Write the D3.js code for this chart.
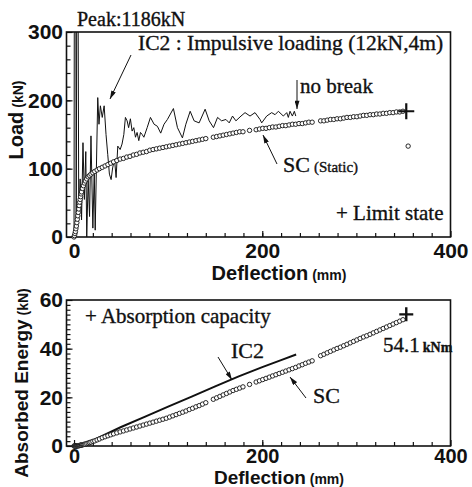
<!DOCTYPE html>
<html>
<head>
<meta charset="utf-8">
<script src="https://cdn.jsdelivr.net/npm/d3@7"></script>
<style>
  body { margin: 0; background: #fff; }
  svg { display: block; }
  .serif { font-family: "Liberation Serif", "Times New Roman", serif; fill: #111; stroke: #111; stroke-width: 0.35px; }
  .sans { font-family: "Liberation Sans", Arial, sans-serif; fill: #111; font-weight: bold; }
</style>
</head>
<body>
<svg id="chart" width="472" height="487"></svg>
<script>
// ---- Static test SC: deflection (mm), load (kN), absorbed energy (kNm) ----
const deflection = [
  0, 0.5, 1, 1.5, 2, 2.5, 3, 3.5, 4, 4.5, 5, 5.5, 6, 6.5, 7, 7.5, 8, 9, 10, 11, 12, 13.5, 15, 16.5, 18, 20, 22, 24.5, 27, 30,
  33, 36, 39, 42, 45.5, 49, 52.5, 56, 59.5, 63, 66.5, 70, 73.5, 77, 80.5, 84, 87.5, 91, 94.5, 98,
  101.5, 105, 108.5, 112, 115.5, 119, 122.5, 126, 129.5, 133, 136.5, 140, 148, 151.5, 155, 158.5, 162, 165.5, 169, 172.5,
  176, 179.5, 186.5, 193.5, 197, 200.5, 204, 207.5, 211, 214.5, 218, 221.5, 225, 228.5, 232, 235.5, 239, 242.5, 246, 249.5,
  253, 262, 265.5, 269, 272.5, 276, 279.5, 283, 286.5, 290, 293.5, 297, 300.5, 304, 307.5, 311, 314.5, 318, 321.5, 325,
  328.5, 332, 335.5, 339, 342.5, 346, 349.5
];
const scLoad = [
  0, 2, 5, 8, 12, 16, 21, 26, 31, 36, 41, 46, 51, 55, 59, 63, 66, 71, 75, 79, 82, 85, 88, 90, 92, 94, 96, 98, 100, 102,
  104, 106, 108, 110, 112, 114, 115, 117, 118, 120, 121, 123, 124, 125, 127, 128, 129, 130, 131, 132,
  133, 134, 135, 136, 137, 138, 139, 140, 141, 142, 143, 144, 146, 147, 148, 149, 150, 151, 152, 153,
  154, 154, 156, 157, 158, 159, 159, 160, 161, 161, 162, 163, 163, 164, 165, 165, 166, 166, 167, 168,
  168, 170, 170, 171, 172, 172, 173, 173, 174, 175, 175, 176, 176, 177, 178, 178, 179, 179, 180, 180,
  181, 181, 182, 182, 183, 183, 184
];
const scEnergy = [
  0, 0, 0, 0, 0, 0.05, 0.05, 0.1, 0.1, 0.1, 0.15, 0.2, 0.2, 0.25, 0.3, 0.35, 0.4, 0.5, 0.6, 0.7, 0.8, 1.0, 1.2, 1.4, 1.6, 1.9, 2.1, 2.5, 2.9, 3.4,
  3.8, 4.2, 4.6, 5.0, 5.4, 5.8, 6.2, 6.6, 7.0, 7.4, 7.8, 8.2, 8.6, 9.0, 9.4, 9.8, 10.2, 10.6, 11.0, 11.4,
  11.9, 12.4, 12.9, 13.4, 13.9, 14.4, 15.0, 15.5, 16.1, 16.6, 17.2, 17.8, 19.2, 19.8, 20.4, 21.0, 21.6, 22.2, 22.8, 23.3,
  23.8, 24.3, 25.3, 26.3, 26.8, 27.3, 27.8, 28.3, 28.8, 29.3, 29.8, 30.3, 30.8, 31.3, 31.8, 32.3, 32.9, 33.4, 34.0, 34.5,
  35.0, 37.1, 37.7, 38.3, 38.9, 39.5, 40.1, 40.6, 41.2, 41.8, 42.4, 43.0, 43.6, 44.2, 44.8, 45.3, 45.9, 46.5, 47.1, 47.7,
  48.3, 48.9, 49.5, 50.1, 50.7, 51.3, 51.9
];
// stray reading after the limit state
const scOutlierDeflection = [355];
const scOutlierLoad = [133];

// ---- Impulsive loading IC2 (12 kN, 4 m) ----
const ic2Deflection = [
  0, 1, 2.3, 3.6, 5, 6.5, 8, 9.5, 11, 12.5, 13.5, 15, 16.5, 18, 20, 21.5, 22.5, 25.2, 26.5, 28,
  30, 32, 34, 35.8, 37.6, 39.4, 41, 43, 44.7, 46.5, 49, 51, 52.9, 54.6, 56.4, 58, 59.9, 61.7, 63.5, 65.3,
  67, 68.8, 70.6, 72.4, 74.2, 77.7, 81.2, 85.1, 88.6, 92.1, 95.6, 99.2, 105.6, 109.9, 115.2, 118.8, 123.4, 127.6, 132.9, 139.3,
  143.6, 148.2, 152.5, 156.8, 161.4, 164.9, 168.4, 172, 177.4, 181.7, 187, 192.3, 197.6, 199.4, 204.7, 210, 213.6, 217.1, 222.4, 226,
  227.7, 229.5, 232, 234.1, 235.6
];
const ic2Load = [
  0, 1186, 10, 700, 30, 85, 25, 138, 55, 125, 0, 85, 30, 148, 13, 95, 10, 204, 165, 192,
  175, 192, 150, 121, 92, 84, 101, 114, 87, 133, 128, 136, 150, 175, 170, 160, 173, 155, 160, 146,
  153, 141, 153, 150, 146, 160, 175, 165, 162, 152, 165, 172, 188, 160, 145, 165, 184, 170, 167, 187,
  170, 160, 175, 170, 172, 167, 177, 170, 177, 182, 177, 182, 172, 167, 177, 182, 179, 184, 177, 182,
  175, 184, 177, 184, 177
];
const ic2EnergyDeflection = [0, 10, 20, 30, 50, 75, 100, 125, 150, 175, 200, 220, 236];
const ic2Energy = [0, 0.8, 2.3, 4.2, 7.8, 12, 16.2, 20.3, 24.5, 28.6, 32.4, 35.3, 37.6];

// limit state (load panel) and absorption capacity (energy panel)
const limitState = [353, 184];
const absorptionCapacity = [353, 54.1];

// ---- axis ticks ----
const xTicks = [0, 200, 400];
const loadTicks = [0, 100, 200, 300];
const energyTicks = [0, 20, 40, 60];

// ---- layout ----
const svg = d3.select("#chart");
const left = 66.5, right = 450.5;
const x = d3.scaleLinear().domain([-8, 400]).range([left, right]);
const yLoad = d3.scaleLinear().domain([0, 300]).range([237, 32]);
const yEnergy = d3.scaleLinear().domain([0, 60]).range([446, 300]);

const defs = svg.append("defs");
defs.append("marker")
  .attr("id", "arrow").attr("viewBox", "0 0 10 6")
  .attr("refX", 10).attr("refY", 3)
  .attr("markerWidth", 9).attr("markerHeight", 5)
  .attr("markerUnits", "userSpaceOnUse")
  .attr("orient", "auto")
  .append("path").attr("d", "M0,0 L10,3 L0,6 Z").attr("fill", "#111");
defs.append("clipPath").attr("id", "clipLoad")
  .append("rect").attr("x", left).attr("y", yLoad(300)).attr("width", right - left).attr("height", yLoad(0) - yLoad(300));
defs.append("clipPath").attr("id", "clipEnergy")
  .append("rect").attr("x", left).attr("y", yEnergy(60)).attr("width", right - left).attr("height", yEnergy(0) - yEnergy(60));

function frame(y, yMajor, yMinorStep, yTitle, yTitleSize, yTitleY, yTitleX, xLabelPad, xLabelSize, xTitleY, xTitleSize) {
  const [y0, y1] = y.range();
  const g = svg.append("g");
  // minor x ticks
  g.append("g").attr("transform", `translate(0,${y0})`)
    .call(d3.axisBottom(x).tickValues(d3.range(20, 400, 20)).tickSize(-4).tickFormat(""))
    .call(a => a.select(".domain").remove());
  // major x ticks with labels
  g.append("g").attr("transform", `translate(0,${y0})`)
    .call(d3.axisBottom(x).tickValues(xTicks).tickSize(-6).tickPadding(xLabelPad))
    .call(a => a.select(".domain").remove())
    .call(a => a.selectAll("text").attr("class", "sans").attr("font-size", xLabelSize).attr("fill", "#111"));
  // minor y ticks
  const yd = y.domain();
  g.append("g").attr("transform", `translate(${left},0)`)
    .call(d3.axisLeft(y).tickValues(d3.range(yd[0] + yMinorStep, yd[1], yMinorStep)).tickSize(-4).tickFormat(""))
    .call(a => a.select(".domain").remove());
  // major y ticks with labels
  g.append("g").attr("transform", `translate(${left},0)`)
    .call(d3.axisLeft(y).tickValues(yMajor).tickSize(-6).tickPadding(3.5))
    .call(a => a.select(".domain").remove())
    .call(a => a.selectAll("text").attr("class", "sans").attr("font-size", 21).attr("fill", "#111"));
  g.selectAll(".tick line").attr("stroke", "#111").attr("stroke-width", 1.2);
  // plot frame
  g.append("rect").attr("x", left).attr("y", y1).attr("width", right - left).attr("height", y0 - y1)
    .attr("fill", "none").attr("stroke", "#111").attr("stroke-width", 1.6);
  // axis titles
  const xt = g.append("text").attr("class", "sans").attr("x", 279).attr("y", xTitleY).attr("text-anchor", "middle");
  xt.append("tspan").attr("font-size", xTitleSize).text("Deflection");
  xt.append("tspan").attr("font-size", 14).text(" (mm)");
  const yt = g.append("text").attr("class", "sans").attr("text-anchor", "middle")
    .attr("transform", `translate(${yTitleX},${yTitleY}) rotate(-90)`);
  yt.append("tspan").attr("font-size", yTitleSize).text(yTitle);
  yt.append("tspan").attr("font-size", 14).text(" (kN)");
}

function plus(cx, cy, half, w) {
  svg.append("path")
    .attr("d", `M${cx - half},${cy}H${cx + half}M${cx},${cy - half}V${cy + half}`)
    .attr("stroke", "#111").attr("stroke-width", w).attr("fill", "none");
}

function arrow(x1, y1, x2, y2) {
  svg.append("line").attr("x1", x1).attr("y1", y1).attr("x2", x2).attr("y2", y2)
    .attr("stroke", "#111").attr("stroke-width", 1).attr("marker-end", "url(#arrow)");
}

// ================= Load panel =================
frame(yLoad, loadTicks, 20, "Load", 20, 120, 23, 6, 21, 280, 20);

const ic2Pts = ic2Deflection.map((d, i) => [d, ic2Load[i]]);
svg.append("path").datum(ic2Pts)
  .attr("clip-path", "url(#clipLoad)")
  .attr("fill", "none").attr("stroke", "#111").attr("stroke-width", 1)
  .attr("d", d3.line().x(d => x(d[0])).y(d => yLoad(d[1])));

const scLoadPts = deflection.map((d, i) => [d, scLoad[i]])
  .concat(scOutlierDeflection.map((d, i) => [d, scOutlierLoad[i]]));
svg.append("g").selectAll("circle").data(scLoadPts).join("circle")
  .attr("cx", d => x(d[0])).attr("cy", d => yLoad(d[1])).attr("r", 2.2)
  .attr("fill", "#fff").attr("stroke", "#111").attr("stroke-width", 0.9);

plus(x(limitState[0]), yLoad(limitState[1]), 8, 2.2);

svg.append("text").attr("class", "serif").attr("x", 77).attr("y", 26).attr("font-size", 20).text("Peak:1186kN");
svg.append("text").attr("class", "serif").attr("x", 138).attr("y", 50).attr("font-size", 21.5)
  .text("IC2 : Impulsive loading (12kN,4m)");
arrow(131, 55, 110, 99);
svg.append("text").attr("class", "serif").attr("x", 300).attr("y", 93).attr("font-size", 21).text("no break");
arrow(297, 80, 297, 109);
const scLabel = svg.append("text").attr("class", "serif").attr("x", 283).attr("y", 172);
scLabel.append("tspan").attr("font-size", 22).text("SC");
scLabel.append("tspan").attr("font-size", 15).attr("dx", 4).text("(Static)");
arrow(277, 164, 263, 135);
svg.append("text").attr("class", "serif").attr("x", 336).attr("y", 220).attr("font-size", 21).text("+ Limit state");

// ================= Energy panel =================
frame(yEnergy, energyTicks, 2, "Absorbed Energy", 19, 383, 28, 3, 20, 484, 19);

const ic2EPts = ic2EnergyDeflection.map((d, i) => [d, ic2Energy[i]]);
svg.append("path").datum(ic2EPts)
  .attr("clip-path", "url(#clipEnergy)")
  .attr("fill", "none").attr("stroke", "#111").attr("stroke-width", 2)
  .attr("d", d3.line().x(d => x(d[0])).y(d => yEnergy(d[1])));

const scEPts = deflection.map((d, i) => [d, scEnergy[i]]);
svg.append("g").selectAll("circle").data(scEPts).join("circle")
  .attr("cx", d => x(d[0])).attr("cy", d => yEnergy(d[1])).attr("r", 2.2)
  .attr("fill", "#fff").attr("stroke", "#111").attr("stroke-width", 0.9);

plus(x(absorptionCapacity[0]), yEnergy(absorptionCapacity[1]), 7, 2.4);

svg.append("text").attr("class", "serif").attr("x", 85).attr("y", 323).attr("font-size", 21).text("+ Absorption capacity");
svg.append("text").attr("class", "serif").attr("x", 231).attr("y", 358).attr("font-size", 22).text("IC2");
arrow(218, 357, 232, 380);
svg.append("text").attr("class", "serif").attr("x", 313).attr("y", 403).attr("font-size", 22).text("SC");
arrow(306, 398, 290, 377);
const capLabel = svg.append("text").attr("class", "serif").attr("x", 383).attr("y", 352);
capLabel.append("tspan").attr("font-size", 21).text("54.1");
capLabel.append("tspan").attr("font-size", 14).attr("font-weight", "bold").attr("dx", 3).text("kNm");
</script>
</body>
</html>
